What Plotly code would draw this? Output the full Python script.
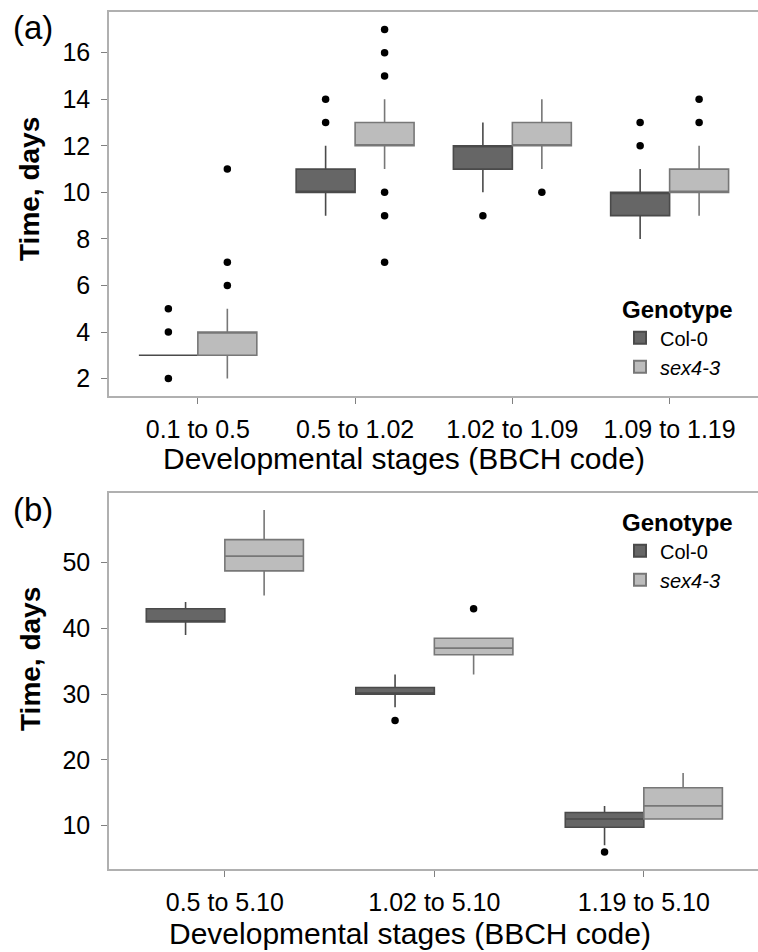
import plotly.graph_objects as go

W, H = 758, 952

# ---------------- data ----------------
genotypes = ["Col-0", "sex4-3"]

cats_a = ["0.1 to 0.5", "0.5 to 1.02", "1.02 to 1.09", "1.09 to 1.19"]
col_a_q1 = [3, 10, 11, 9]
col_a_med = [3, 10, 12, 10]
col_a_q3 = [3, 11, 12, 10]
col_a_lo = [3, 9, 10, 8]
col_a_hi = [3, 12, 13, 11]
col_a_out = [[2, 4, 5], [13, 14], [9], [12, 13]]

sex_a_q1 = [3, 12, 12, 10]
sex_a_med = [4, 12, 12, 10]
sex_a_q3 = [4, 13, 13, 11]
sex_a_lo = [2, 11, 11, 9]
sex_a_hi = [5, 14, 14, 12]
sex_a_out = [[6, 7, 11], [7, 9, 10, 15, 16, 17], [10], [13, 14]]

cats_b = ["0.5 to 5.10", "1.02 to 5.10", "1.19 to 5.10"]
col_b_q1 = [41, 30, 9.75]
col_b_med = [41, 30, 11]
col_b_q3 = [43, 31, 12]
col_b_lo = [39, 28, 7]
col_b_hi = [44, 33, 13]
col_b_out = [[], [26], [6]]

sex_b_q1 = [48.75, 36, 11]
sex_b_med = [51, 37, 13]
sex_b_q3 = [53.5, 38.5, 15.75]
sex_b_lo = [45, 33, 11]
sex_b_hi = [58, 38.5, 18]
sex_b_out = [[], [43], []]

yticks_a = [2, 4, 6, 8, 10, 12, 14, 16]
yticks_b = [10, 20, 30, 40, 50]

# ---------------- style ----------------
FONT = "Liberation Sans, Arial, sans-serif"
DODGE = 0.1875
BOXW = 0.375
styles = {
    "Col-0": dict(fill="#666666", line="#4a4a4a"),
    "sex4-3": dict(fill="#bcbcbc", line="#777777"),
}
legend_names = {"Col-0": "Col-0", "sex4-3": "<i>sex4-3</i>"}

fig = go.Figure()


def add_panel(xa, ya, legend, stats):
    for g, sgn, (q1, med, q3, lo, hi, outs) in zip(genotypes, (-1, 1), stats):
        n = len(q1)
        xs = [i + sgn * DODGE for i in range(n)]
        st = styles[g]
        fig.add_trace(go.Box(
            x=xs, q1=q1, median=med, q3=q3, lowerfence=lo, upperfence=hi,
            width=BOXW, whiskerwidth=0, boxpoints=False,
            fillcolor=st["fill"], line=dict(color=st["line"], width=1.6),
            name=legend_names[g], legend=legend, xaxis=xa, yaxis=ya,
            hoverinfo="skip",
        ))
        px, py = [], []
        for i, vals in enumerate(outs):
            for v in vals:
                px.append(xs[i])
                py.append(v)
        fig.add_trace(go.Scatter(
            x=px, y=py, mode="markers", showlegend=False,
            marker=dict(color="black", size=7.5),
            xaxis=xa, yaxis=ya, hoverinfo="skip",
        ))


add_panel("x", "y", "legend", [
    (col_a_q1, col_a_med, col_a_q3, col_a_lo, col_a_hi, col_a_out),
    (sex_a_q1, sex_a_med, sex_a_q3, sex_a_lo, sex_a_hi, sex_a_out),
])
add_panel("x2", "y2", "legend2", [
    (col_b_q1, col_b_med, col_b_q3, col_b_lo, col_b_hi, col_b_out),
    (sex_b_q1, sex_b_med, sex_b_q3, sex_b_lo, sex_b_hi, sex_b_out),
])


def px2x(p):
    return p / W


def px2y(p):
    return 1 - p / H


axis_common = dict(
    showgrid=False, zeroline=False, showline=True, linecolor="#b0b0b0",
    linewidth=1.5, ticks="outside", ticklen=6, tickcolor="#808080",
    tickwidth=1.2, tickfont=dict(family=FONT, size=25, color="black"),
)

legend_common = dict(
    xanchor="left", yanchor="top",
    bgcolor="rgba(0,0,0,0)", tracegroupgap=0, itemsizing="constant",
    title=dict(text="<b>Genotype</b>", font=dict(family=FONT, size=24, color="black")),
    font=dict(family=FONT, size=20, color="black"),
)

fig.update_layout(
    width=W, height=H, margin=dict(l=0, r=0, t=0, b=0),
    paper_bgcolor="white", plot_bgcolor="white", showlegend=True,
    xaxis=dict(axis_common, domain=[px2x(109), 1.0], anchor="y",
               range=[-0.565, 3.562], tickvals=list(range(len(cats_a))),
               ticktext=cats_a, mirror=True, ticklabelstandoff=4),
    yaxis=dict(axis_common, domain=[px2y(396), px2y(12)], anchor="x",
               range=[1.25, 17.75], tickvals=yticks_a, ticklabelstandoff=6),
    xaxis2=dict(axis_common, domain=[px2x(109), 1.0], anchor="y2",
                range=[-0.553, 2.545], tickvals=list(range(len(cats_b))),
                ticktext=cats_b, mirror=True, ticklabelstandoff=4),
    yaxis2=dict(axis_common, domain=[px2y(869), px2y(493)], anchor="x2",
                range=[3.4, 60.6], tickvals=yticks_b, ticklabelstandoff=6),
    legend=dict(legend_common, x=px2x(620), y=px2y(287)),
    legend2=dict(legend_common, x=px2x(620), y=px2y(500)),
)

ann = [
    dict(text="(a)", x=px2x(33), y=px2y(27), font=dict(size=33)),
    dict(text="(b)", x=px2x(33), y=px2y(509), font=dict(size=33)),
    dict(text="<b>Time, days</b>", x=px2x(30), y=px2y(189), textangle=-90, font=dict(size=28)),
    dict(text="<b>Time, days</b>", x=px2x(30), y=px2y(659), textangle=-90, font=dict(size=28)),
    dict(text="Developmental stages (BBCH code)", x=px2x(404), y=px2y(458), font=dict(size=30)),
    dict(text="Developmental stages (BBCH code)", x=px2x(410), y=px2y(933), font=dict(size=30)),
]
for a in ann:
    f = dict(family=FONT, color="black")
    f.update(a.pop("font"))
    fig.add_annotation(xref="paper", yref="paper", showarrow=False,
                       xanchor="center", yanchor="middle", font=f, **a)

fig.write_html("out.html")
